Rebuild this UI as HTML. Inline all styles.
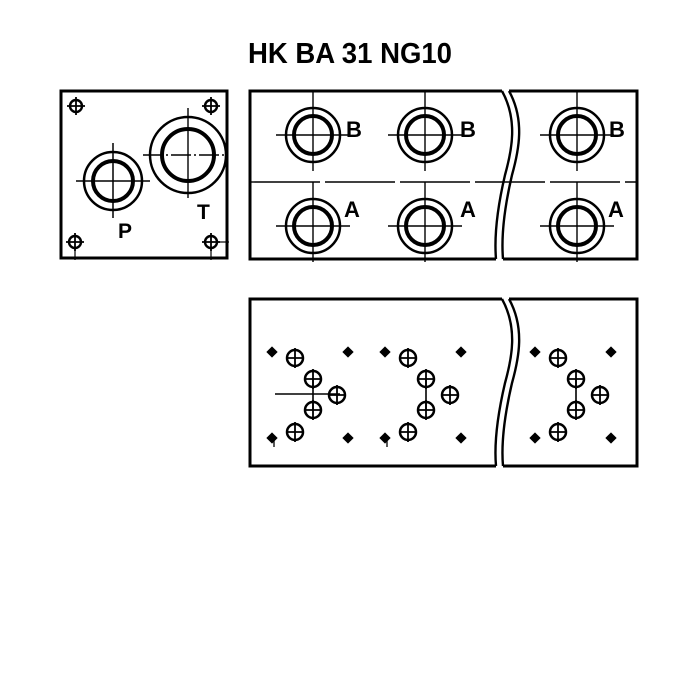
<!DOCTYPE html>
<html><head><meta charset="utf-8"><style>
html,body{margin:0;padding:0;background:#fff;}
svg{display:block;}
text{font-family:"Liberation Sans",sans-serif;font-weight:bold;fill:#000;}
</style></head><body>
<svg width="700" height="700" viewBox="0 0 700 700" xmlns="http://www.w3.org/2000/svg">
<defs>
<g id="sh"><circle r="6" fill="none" stroke="#000" stroke-width="2.4"/><line x1="-9" y1="0" x2="9" y2="0" stroke="#000" stroke-width="1.8"/><line x1="0" y1="-9" x2="0" y2="9" stroke="#000" stroke-width="1.8"/></g>
<g id="port"><circle r="27" fill="none" stroke="#000" stroke-width="2.5"/><circle r="19" fill="none" stroke="#000" stroke-width="4"/><line x1="-37" y1="0" x2="37" y2="0" stroke="#000" stroke-width="1.6"/><line x1="0" y1="-44" x2="0" y2="36" stroke="#000" stroke-width="1.4"/></g>
<g id="ch"><circle r="8" fill="none" stroke="#000" stroke-width="2.5"/><line x1="-9" y1="0" x2="9" y2="0" stroke="#000" stroke-width="1.8"/><line x1="0" y1="-10" x2="0" y2="10" stroke="#000" stroke-width="1.8"/></g>
<g id="dm"><rect x="-4" y="-4" width="8" height="8" transform="rotate(45)" fill="#000"/></g>
<g id="grp">
<use href="#dm" x="0" y="0"/><use href="#ch" x="23" y="6"/><use href="#dm" x="76" y="0"/>
<use href="#ch" x="41" y="27"/><use href="#ch" x="65" y="43"/><use href="#ch" x="41" y="58"/>
<line x1="41" y1="27" x2="41" y2="58" stroke="#000" stroke-width="1.6"/>
<use href="#ch" x="23" y="80"/><use href="#dm" x="0" y="86"/><use href="#dm" x="76" y="86"/>
</g>
</defs>
<text x="350" y="63" text-anchor="middle" font-size="29" textLength="204" lengthAdjust="spacingAndGlyphs">HK BA 31 NG10</text>

<rect x="61" y="91" width="166" height="167" fill="none" stroke="#000" stroke-width="3"/>
<use href="#sh" x="76" y="106"/><use href="#sh" x="211" y="106"/><use href="#sh" x="75" y="242"/><use href="#sh" x="211" y="242"/>
<line x1="75" y1="248" x2="75" y2="260" stroke="#000" stroke-width="1.2"/>
<line x1="211" y1="248" x2="211" y2="260" stroke="#000" stroke-width="1.2"/>
<line x1="217" y1="242" x2="229" y2="242" stroke="#000" stroke-width="1.2"/>
<circle cx="113" cy="181" r="29" fill="none" stroke="#000" stroke-width="2.5"/>
<circle cx="113" cy="181" r="20" fill="none" stroke="#000" stroke-width="4"/>
<line x1="76" y1="181" x2="150" y2="181" stroke="#000" stroke-width="1.6"/>
<line x1="113" y1="143" x2="113" y2="218" stroke="#000" stroke-width="1.5"/>
<circle cx="188" cy="155" r="38" fill="none" stroke="#000" stroke-width="2.5"/>
<circle cx="188" cy="155" r="26" fill="none" stroke="#000" stroke-width="4"/>
<line x1="143" y1="155" x2="228" y2="155" stroke="#000" stroke-width="1.5" stroke-dasharray="20 3 2 3"/>
<line x1="188" y1="108" x2="188" y2="198" stroke="#000" stroke-width="1.4"/>
<text x="118" y="238" font-size="21">P</text>
<text x="197" y="219" font-size="21">T</text>

<path d="M502 91 L250 91 L250 259 L496 259" fill="none" stroke="#000" stroke-width="3"/>
<path d="M502 91 C518 120 512 150 505 175 C498 205 494 235 496 259" fill="none" stroke="#000" stroke-width="2.4"/>
<path d="M509 91 C525 120 519 150 512 175 C505 205 501 235 503 259" fill="none" stroke="#000" stroke-width="2.4"/>
<path d="M509 91 L637 91 L637 259 L503 259" fill="none" stroke="#000" stroke-width="3"/>
<line x1="250" y1="182" x2="637" y2="182" stroke="#000" stroke-width="1.4" stroke-dasharray="70 5"/>
<use href="#port" x="313" y="135"/><use href="#port" x="425" y="135"/><use href="#port" x="577" y="135"/>
<use href="#port" x="313" y="226"/><use href="#port" x="425" y="226"/><use href="#port" x="577" y="226"/>
<text x="346" y="137" font-size="22">B</text><text x="460" y="137" font-size="22">B</text><text x="609" y="137" font-size="22">B</text>
<text x="344" y="217" font-size="22">A</text><text x="460" y="217" font-size="22">A</text><text x="608" y="217" font-size="22">A</text>

<path d="M502 299 L250 299 L250 466 L496 466" fill="none" stroke="#000" stroke-width="3"/>
<path d="M502 299 C518 328 512 358 505 383 C498 413 494 443 496 466" fill="none" stroke="#000" stroke-width="2.4"/>
<path d="M509 299 C525 328 519 358 512 383 C505 413 501 443 503 466" fill="none" stroke="#000" stroke-width="2.4"/>
<path d="M509 299 L637 299 L637 466 L503 466" fill="none" stroke="#000" stroke-width="3"/>
<line x1="275" y1="394" x2="340" y2="394" stroke="#000" stroke-width="1.4"/>
<g transform="translate(272,352)"><use href="#grp"/></g>
<g transform="translate(385,352)"><use href="#grp"/></g>
<g transform="translate(535,352)"><use href="#grp"/></g>
<line x1="274" y1="440" x2="274" y2="447" stroke="#000" stroke-width="1.3"/>
<line x1="387" y1="440" x2="387" y2="447" stroke="#000" stroke-width="1.3"/>
</svg>
</body></html>
